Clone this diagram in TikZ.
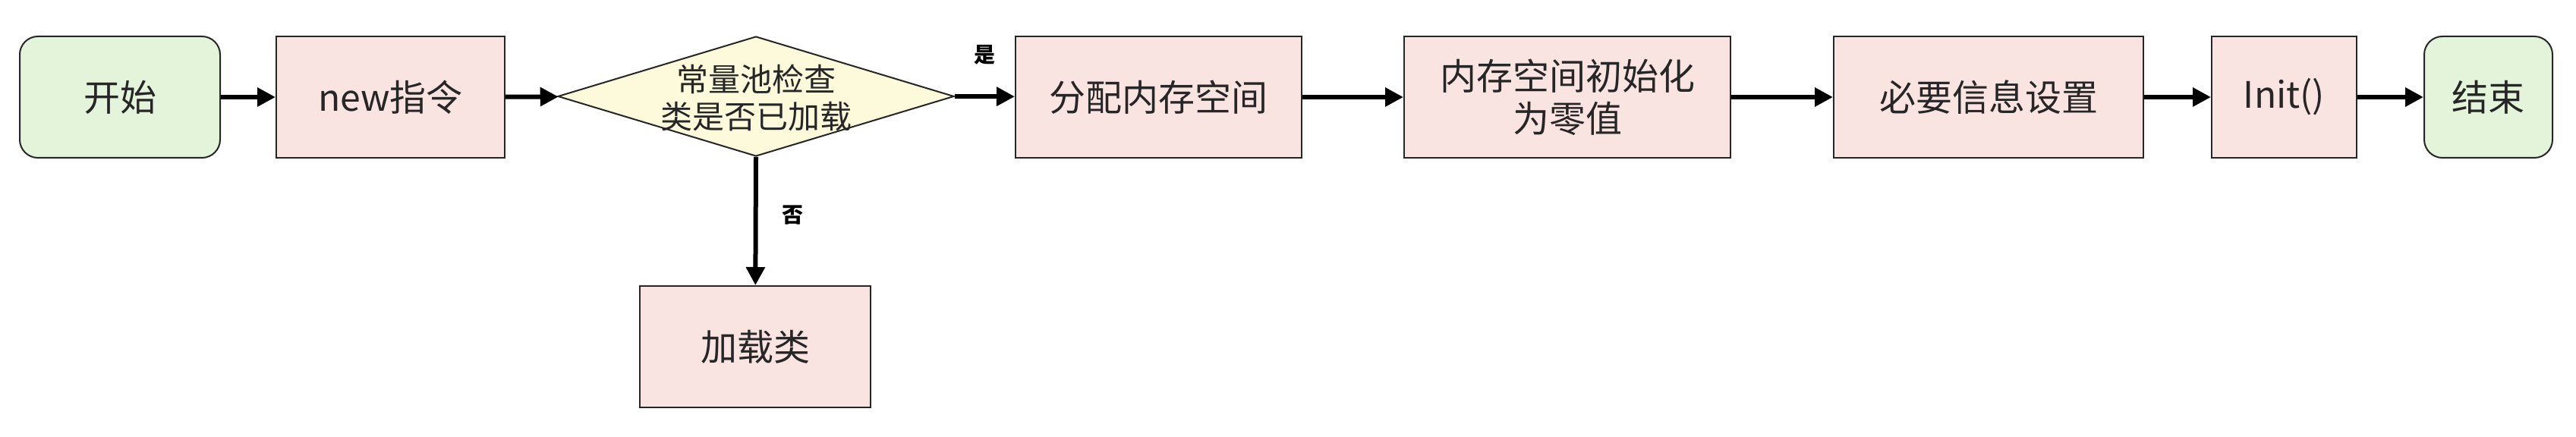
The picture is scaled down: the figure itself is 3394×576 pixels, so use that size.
\documentclass[tikz,border=0pt]{standalone}
\usepackage{fontspec}
\setmainfont{Noto Sans CJK SC}
\usetikzlibrary{arrows.meta,shapes.geometric}
\definecolor{startgreen}{HTML}{E3F4DB}
\definecolor{procpink}{HTML}{F9E4E1}
\definecolor{decyellow}{HTML}{FCFADB}
\definecolor{edge}{HTML}{262626}
\tikzset{
  x=0.5pt, y=-0.5pt,
  base/.style={draw=edge, line width=1pt, inner sep=0pt, align=center,
    font=\fontsize{24}{28}\selectfont, text=black!85},
  term/.style={base, rectangle, rounded corners=12pt, fill=startgreen,
    minimum height=80pt},
  proc/.style={base, rectangle, fill=procpink, minimum height=80pt},
  dia/.style={draw=edge, line width=1pt, diamond, fill=decyellow, inner sep=0pt,
    minimum width=261pt, minimum height=79pt},
  dtext/.style={inner sep=0pt, align=center, font=\fontsize{21}{24.5}\selectfont, text=black!85},
  flow/.style={line width=3pt, draw=black, -{Triangle[length=12pt,width=12pt]}},
  lbl/.style={inner sep=0pt, font=\fontsize{14}{16}\selectfont\bfseries},
}
\begin{document}
\begin{tikzpicture}
\useasboundingbox[fill=white] (0,0) rectangle (3394,576);
\node[term, minimum width=132pt] (start) at (158,128) {开始};
\node[proc, minimum width=150.5pt] (new) at (514.5,128) {new指令};
\node[dia] (dec) at (996,127) {};
\node[dtext] (dect) at (996,129) {常量池检查\\类是否已加载};
\node[proc, minimum width=188.5pt] (alloc) at (1526.5,128) {分配内存空间};
\node[proc, minimum width=215pt] (zero) at (2065,128) {内存空间初始化\\为零值};
\node[proc, minimum width=204pt] (info) at (2620,128) {必要信息设置};
\node[proc, minimum width=95.5pt] (init) at (3009.5,128) {Init()};
\node[term, minimum width=84.5pt] (end) at (3278.5,128) {结束};
\node[proc, minimum width=152pt] (load) at (995,457) {加载类};

\draw[flow] (start) -- (new);
\draw[flow] (new) -- (dec);
\draw[flow] (dec.east) -- (alloc);
\draw[flow] (dec.south) -- (load);
\draw[flow] (alloc) -- (zero);
\draw[flow] (zero) -- (info);
\draw[flow] (info) -- (init);
\draw[flow] (init) -- (end);

\node[lbl] (yes) at (1297,72) {是};
\node[lbl] (no) at (1044,283) {否};
\end{tikzpicture}
\end{document}
